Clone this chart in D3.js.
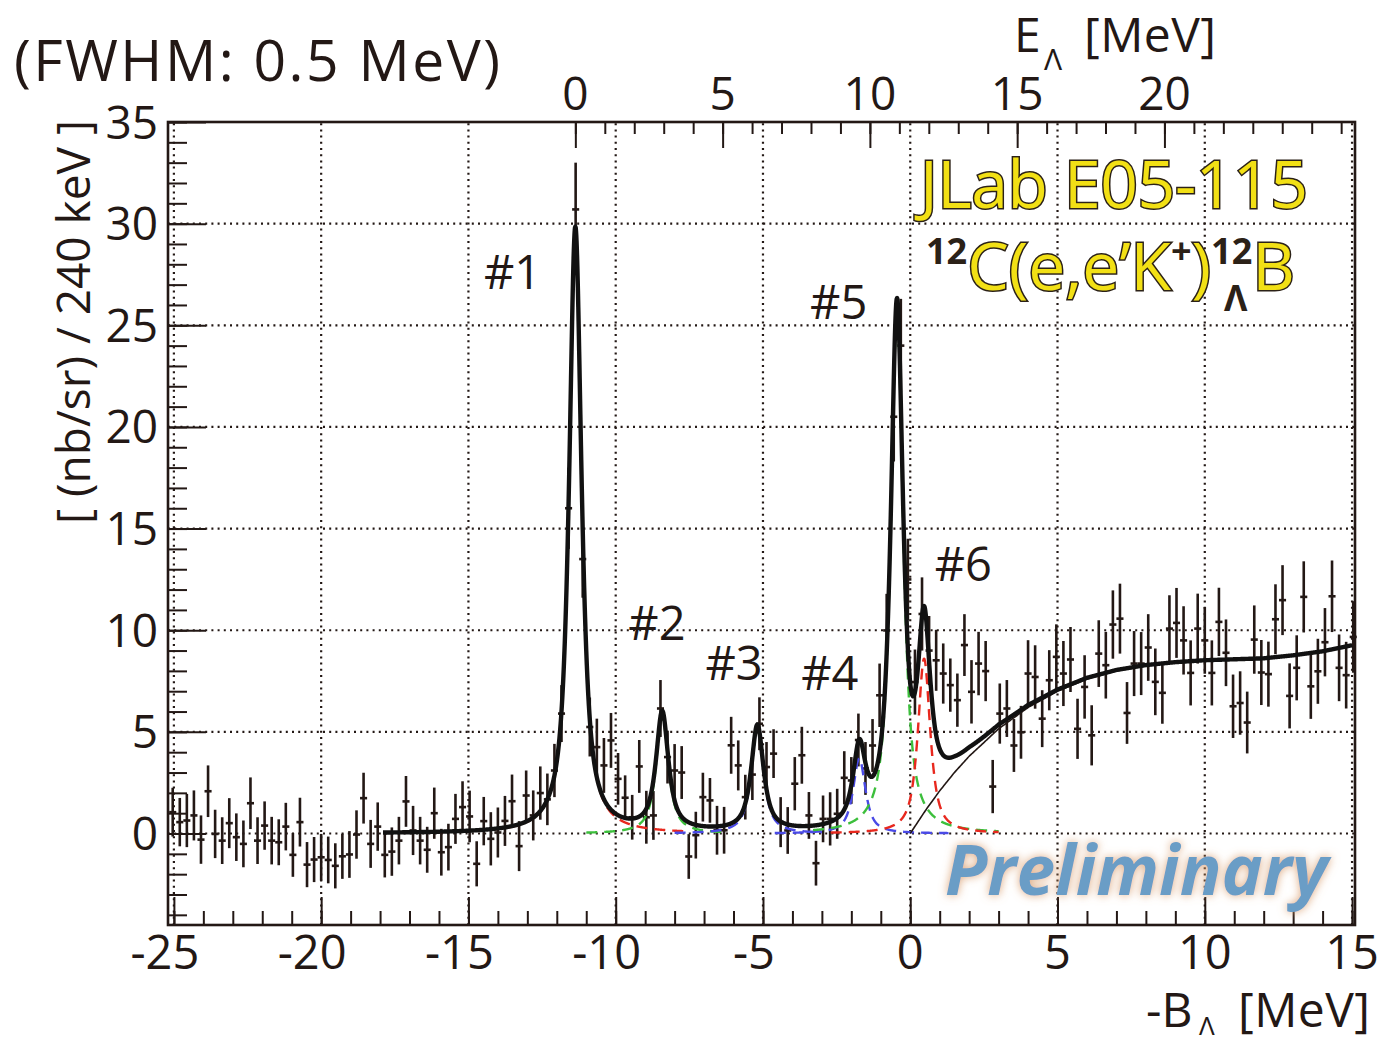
<!DOCTYPE html>
<html>
<head>
<meta charset="utf-8">
<script src="https://cdn.jsdelivr.net/npm/d3@7"></script>
<style>
  html, body { margin: 0; padding: 0; background: #fff; }
  svg { display: block; }
  text { font-family: "Open Sans", "Noto Sans", sans-serif; fill: #231815; }
</style>
</head>
<body>
<svg id="chart" width="1383" height="1043"></svg>
<script>
// ---- Histogram: 240 keV bins of the missing-mass spectrum ----
const binStart = -25.04;   // centre of the first bin [MeV]
const binWidth = 0.24;     // [MeV]
const counts = [
  1.05, 0.56, 0.64, 0.89, -0.30, 2.08, -0.02, -0.35, 0.51, -0.18,
  -0.51, 1.49, -0.35, 0.39, -0.35, -0.43, 0.34, -1.05, 0.56, -1.53,
  -1.28, -1.17, -1.30, -1.59, -1.12, -1.03, -0.05, 1.74, -0.51, 0.34,
  -1.05, -0.89, -0.35, 1.58, 0.15, -0.35, -0.80, 1.00, -0.92, -0.67,
  0.72, 1.30, 0.84, -1.49, 0.61, -0.26, 0.05, 0.62, 1.59, -0.62,
  1.87, 0.89, 1.99, 1.68, 3.10, 5.90, 16.0, 30.7, 13.5, 5.24,
  4.25, 3.35, 4.58, 2.69, 1.76, 0.80, 3.30, 0.80, 0.89, 6.15,
  3.76, 3.10, 3.00, -1.13, -0.08, 1.79, 1.63, 0.16, 0.16, 4.34,
  3.35, 1.79, 2.90, 5.40, 3.27, 3.93, 0.56, 0.15, 2.45, 3.85,
  0.89, -1.46, 0.72, 0.72, 0.97, 2.74, 2.61, 4.60, 3.20, 4.33,
  6.80, 9.99, 20.5, 24.0, 12.5, 7.45, 10.8, 9.0, 8.52, 7.87,
  7.30, 6.56, 9.27, 6.97, 8.36, 7.99, 2.31, 5.90, 6.15, 4.33,
  4.98, 7.87, 7.70, 5.65, 7.54, 8.69, 7.87, 8.56, 5.15, 7.21,
  4.83, 8.85, 8.28, 10.28, 10.57, 5.93, 8.36, 8.36, 9.15, 7.46,
  6.92, 10.08, 10.36, 9.50, 7.90, 10.08, 9.50, 7.90, 10.41, 8.89,
  6.26, 6.42, 5.46, 9.54, 7.92, 7.84, 10.54, 11.48, 6.77, 8.15,
  11.64, 7.24, 7.98, 9.41, 11.67, 8.15, 7.79, 9.67
];
const errors = [
  1.20, 1.19, 1.31, 1.23, 1.19, 1.27, 1.19, 1.15, 1.23, 1.17,
  1.15, 1.27, 1.15, 1.19, 1.17, 1.13, 1.17, 1.08, 1.20, 1.11,
  1.11, 1.15, 1.15, 1.11, 1.11, 1.15, 1.19, 1.25, 1.18, 1.19,
  1.11, 1.19, 1.17, 1.25, 1.21, 1.17, 1.13, 1.26, 1.15, 1.15,
  1.23, 1.27, 1.27, 1.11, 1.19, 1.31, 1.23, 1.23, 1.31, 1.23,
  1.23, 1.23, 1.31, 1.27, 1.31, 1.40, 2.00, 2.30, 1.90, 1.45,
  1.40, 1.35, 1.35, 1.27, 1.10, 1.10, 1.30, 1.30, 1.20, 1.40,
  1.30, 1.30, 1.30, 1.10, 1.15, 1.20, 1.10, 1.20, 1.15, 1.40,
  1.23, 1.10, 1.25, 1.30, 1.23, 1.20, 1.23, 1.15, 1.31, 1.40,
  1.15, 1.10, 1.15, 1.31, 1.23, 1.31, 1.15, 1.30, 1.30, 1.30,
  1.56, 1.80, 2.20, 2.30, 2.00, 1.60, 1.80, 1.70, 1.50, 1.48,
  1.31, 1.31, 1.52, 1.56, 1.56, 1.48, 1.31, 1.48, 1.40, 1.30,
  1.30, 1.64, 1.56, 1.40, 1.48, 1.60, 1.60, 1.60, 1.48, 1.56,
  1.48, 1.64, 1.64, 1.68, 1.72, 1.52, 1.60, 1.55, 1.64, 1.64,
  1.52, 1.64, 1.72, 1.68, 1.60, 1.72, 1.64, 1.60, 1.68, 1.64,
  1.56, 1.56, 1.52, 1.68, 1.60, 1.60, 1.72, 1.72, 1.60, 1.60,
  1.75, 1.60, 1.60, 1.68, 1.76, 1.64, 1.64, 1.76
];

// ---- Fitted peaks (FWHM 0.5 MeV) ----
const peakNames   = ["#1", "#2", "#3", "#4", "#5", "#6"];
const peakCenters = [-11.37, -8.42, -5.19, -1.73, -0.45, 0.47];
const peakHeights = [29.8, 5.8, 5.2, 3.7, 25.7, 8.6];
const peakFWHM    = 0.5;
const peakLorentzFraction = 0.85;
const peakColors  = ["#e8281e", "#3cbf3c", "#4a4ae6", "#4a4ae6", "#3cbf3c", "#e8281e"];
const peakDrawFrom = [-17.9, -11.0, -8.0, -4.6, -3.3, -2.7];
const peakDrawTo   = [-7.6, -6.4, -3.0, 1.3, 3.0, 3.0];
// label anchor (value coordinates: -B, height)
const peakLabelX = [-13.5, -8.6, -5.98, -2.73, -2.43, 1.8];
const peakLabelY = [26.8, 9.5, 7.55, 7.05, 25.3, 12.4];

// ---- Quasi-free background (threshold at -B = 0) ----
const bgEnergy = [0, 0.5, 1.0, 1.5, 2.0, 3.0, 4.0, 5.0, 6.0, 7.0, 8.0, 9.0, 10.0, 11.0, 12.0, 13.0, 14.0, 15.0];
const bgValue  = [0, 1.1, 2.1, 3.0, 3.8, 5.15, 6.2, 7.0, 7.6, 8.0, 8.25, 8.4, 8.5, 8.55, 8.6, 8.75, 8.95, 9.25];
const fitRange = [-17.9, 15.0];

// ---- Axes ----
const xDomain = [-25.2, 15.1];
const yDomain = [-4.5, 35];
const xMajor = [-25, -20, -15, -10, -5, 0, 5, 10, 15];
const yMajor = [0, 5, 10, 15, 20, 25, 30, 35];
const eOffset = 11.37;          // E_Lambda = -B_Lambda + 11.37 MeV
const eMajor = [0, 5, 10, 15, 20];

const svg = d3.select("#chart");
const m = { left: 168, right: 1355, top: 122, bottom: 925 };
const x = d3.scaleLinear().domain(xDomain).range([m.left, m.right]);
const y = d3.scaleLinear().domain(yDomain).range([m.bottom, m.top]);
const xE = d3.scaleLinear().domain(xDomain.map(v => v + eOffset)).range([m.left, m.right]);

// grid (dotted)
const grid = svg.append("g").attr("stroke", "#231815").attr("stroke-width", 2.2)
  .attr("stroke-dasharray", "2,4.2");
grid.selectAll("line.gx").data(xMajor).join("line")
  .attr("x1", d => x(d)).attr("x2", d => x(d)).attr("y1", m.bottom).attr("y2", m.top);
grid.selectAll("line.gy").data(yMajor.filter(v => v < 35)).join("line")
  .attr("y1", d => y(d)).attr("y2", d => y(d)).attr("x1", m.left).attr("x2", m.right);

// axes with inward ticks
function drawAxis(axis, transform) {
  const g = svg.append("g").attr("transform", transform).call(axis);
  g.select(".domain").remove();
  g.selectAll("line").attr("stroke", "#231815").attr("stroke-width", 2);
  g.selectAll("text").remove();
  return g;
}
const xMinor = d3.range(-25, 16, 1);
drawAxis(d3.axisTop(x).tickValues(xMinor).tickSize(14), `translate(0,${m.bottom})`);
drawAxis(d3.axisTop(x).tickValues(xMajor).tickSize(28), `translate(0,${m.bottom})`);
const yMinor = d3.range(-4, 36, 1);
drawAxis(d3.axisRight(y).tickValues(yMinor).tickSize(19), `translate(${m.left},0)`);
drawAxis(d3.axisRight(y).tickValues(yMajor).tickSize(38), `translate(${m.left},0)`);
const eMinor = d3.range(0, 27, 1);
drawAxis(d3.axisBottom(xE).tickValues(eMinor).tickSize(12), `translate(0,${m.top})`);
drawAxis(d3.axisBottom(xE).tickValues(eMajor).tickSize(26), `translate(0,${m.top})`);

// tick labels
svg.append("g").selectAll("text").data(xMajor).join("text")
  .attr("x", d => x(d) - (d < 0 ? 9 : 0)).attr("y", 969)
  .attr("text-anchor", "middle").attr("font-size", 47).text(d => d);
svg.append("g").selectAll("text").data(yMajor).join("text")
  .attr("x", 158).attr("y", d => y(d)).attr("dy", "0.36em")
  .attr("text-anchor", "end").attr("font-size", 46).text(d => d);
svg.append("g").selectAll("text").data(eMajor).join("text")
  .attr("x", d => xE(d)).attr("y", 110)
  .attr("text-anchor", "middle").attr("font-size", 46).text(d => d);

// frame
svg.append("rect").attr("x", m.left).attr("y", m.top)
  .attr("width", m.right - m.left).attr("height", m.bottom - m.top)
  .attr("fill", "none").attr("stroke", "#231815").attr("stroke-width", 2.6);

// ---- Data points with error bars ----
const bins = counts.map((v, i) => ({ c: binStart + i * binWidth, v, e: errors[i] }));
const pts = svg.append("g").attr("stroke", "#231815").attr("stroke-width", 2.6);
pts.selectAll("line.ey").data(bins).join("line")
  .attr("x1", d => x(d.c)).attr("x2", d => x(d.c))
  .attr("y1", d => y(d.v - d.e)).attr("y2", d => y(d.v + d.e));
pts.selectAll("line.ex").data(bins).join("line")
  .attr("x1", d => x(d.c - binWidth / 2)).attr("x2", d => x(d.c + binWidth / 2))
  .attr("y1", d => y(d.v)).attr("y2", d => y(d.v));

// ---- Fit model ----
const hw = peakFWHM / 2;
function peakShape(i, e) {
  const u = (e - peakCenters[i]) / hw;
  const f = peakLorentzFraction;
  return peakHeights[i] * (f / (1 + u * u) + (1 - f) * Math.exp(-Math.LN2 * u * u));
}
const bgInterp = e => {
  if (e <= 0) return 0;
  const j = Math.min(d3.bisectRight(bgEnergy, e) - 1, bgEnergy.length - 2);
  const t = (e - bgEnergy[j]) / (bgEnergy[j + 1] - bgEnergy[j]);
  return bgValue[j] + t * (bgValue[j + 1] - bgValue[j]);
};
const step = 0.01;
const lineGen = d3.line().x(d => x(d[0])).y(d => y(d[1])).curve(d3.curveMonotoneX);

// components (dashed)
peakCenters.forEach((c, i) => {
  const xs = d3.range(peakDrawFrom[i], peakDrawTo[i] + 1e-9, step);
  svg.append("path").datum(xs.map(e => [e, peakShape(i, e)]))
    .attr("d", lineGen).attr("fill", "none")
    .attr("stroke", peakColors[i]).attr("stroke-width", 2.4)
    .attr("stroke-dasharray", "11,7");
});

// background alone (thin)
const bgPts = d3.range(0, 15.0001, 0.05).map(e => [e, bgInterp(e)]);
svg.append("path").datum(bgPts).attr("d", d3.line().x(d => x(d[0])).y(d => y(d[1])).curve(d3.curveBasis))
  .attr("fill", "none").attr("stroke", "#231815").attr("stroke-width", 1.6);

// total fit (thick)
const fitPts = d3.range(fitRange[0], fitRange[1] + 1e-9, step).map(e =>
  [e, bgInterp(e) + d3.sum(peakCenters, (c, i) => peakShape(i, e))]);
svg.append("path").datum(fitPts).attr("d", lineGen)
  .attr("fill", "none").attr("stroke", "#111").attr("stroke-width", 4.4)
  .attr("stroke-linejoin", "round");

// peak labels
svg.append("g").selectAll("text").data(peakNames).join("text")
  .attr("x", (d, i) => x(peakLabelX[i])).attr("y", (d, i) => y(peakLabelY[i]))
  .attr("text-anchor", "middle").attr("font-size", 47).text(d => d);

// ---- Annotations ----
svg.append("text").attr("x", 14).attr("y", 81).attr("font-size", 57)
  .attr("textLength", 486).attr("lengthAdjust", "spacing").text("(FWHM: 0.5 MeV)");

// axis titles
svg.append("text").attr("transform", "translate(90,322) rotate(-90)")
  .attr("text-anchor", "middle").attr("font-size", 46)
  .attr("textLength", 404).attr("lengthAdjust", "spacing").text("[ (nb/sr) / 240 keV ]");

const topTitle = svg.append("g");
topTitle.append("text").attr("x", 1014).attr("y", 52).attr("font-size", 48).text("E");
topTitle.append("text").attr("x", 1044).attr("y", 70).attr("font-size", 30).text("Λ");
topTitle.append("text").attr("x", 1084).attr("y", 52).attr("font-size", 48)
  .attr("textLength", 132).attr("lengthAdjust", "spacing").text("[MeV]");

const botTitle = svg.append("g");
botTitle.append("text").attr("x", 1146).attr("y", 1027).attr("font-size", 48).text("-B");
botTitle.append("text").attr("x", 1199).attr("y", 1035).attr("font-size", 26).text("Λ");
botTitle.append("text").attr("x", 1238).attr("y", 1027).attr("font-size", 48)
  .attr("textLength", 132).attr("lengthAdjust", "spacing").text("[MeV]");

// experiment / reaction labels (yellow, dark outline)
const yellow = "#f2e015", outline = "#2b2117";
const expt = svg.append("g").attr("font-size", 66);
expt.append("text").attr("x", 920).attr("y", 208)
  .attr("stroke", outline).attr("stroke-width", 3)
  .attr("paint-order", "stroke").style("fill", yellow)
  .attr("textLength", 388).attr("lengthAdjust", "spacing").text("JLab E05-115");
const rx = expt.append("text").attr("x", 926).attr("y", 290);
rx.append("tspan").attr("font-size", 36).attr("dy", -26).style("fill", outline)
  .attr("font-weight", 700).text("12");
rx.append("tspan").attr("dy", 26).style("fill", yellow).attr("stroke", outline).attr("stroke-width", 3)
  .attr("paint-order", "stroke").text("C(e,e’K");
rx.append("tspan").attr("font-size", 36).attr("dy", -26).style("fill", outline)
  .attr("font-weight", 700).text("+");
rx.append("tspan").attr("dy", 26).style("fill", yellow).attr("stroke", outline).attr("stroke-width", 3)
  .attr("paint-order", "stroke").text(")");
rx.append("tspan").attr("font-size", 36).attr("dy", -26).style("fill", outline)
  .attr("font-weight", 700).text("12");
rx.append("tspan").attr("dy", 26).style("fill", yellow).attr("stroke", outline).attr("stroke-width", 3)
  .attr("paint-order", "stroke").text("B");
expt.append("text").attr("x", 1224).attr("y", 311).attr("font-size", 36)
  .style("fill", outline).attr("font-weight", 700).text("Λ");

// "Preliminary" watermark with a warm glow
const defs = svg.append("defs");
const glow = defs.append("filter").attr("id", "glow").attr("x", "-10%").attr("y", "-30%")
  .attr("width", "120%").attr("height", "160%");
glow.append("feGaussianBlur").attr("in", "SourceAlpha").attr("stdDeviation", 5).attr("result", "b");
glow.append("feFlood").attr("flood-color", "#d89a68").attr("flood-opacity", 0.85).attr("result", "c");
glow.append("feComposite").attr("in", "c").attr("in2", "b").attr("operator", "in").attr("result", "g");
const mg = glow.append("feMerge");
mg.append("feMergeNode").attr("in", "g");
mg.append("feMergeNode").attr("in", "SourceGraphic");
svg.append("text").attr("x", 945).attr("y", 895).attr("font-size", 70)
  .attr("font-weight", 700).attr("font-style", "italic")
  .attr("textLength", 383).attr("lengthAdjust", "spacingAndGlyphs")
  .style("fill", "#6a9dc6").attr("filter", "url(#glow)").text("Preliminary");
</script>
</body>
</html>
